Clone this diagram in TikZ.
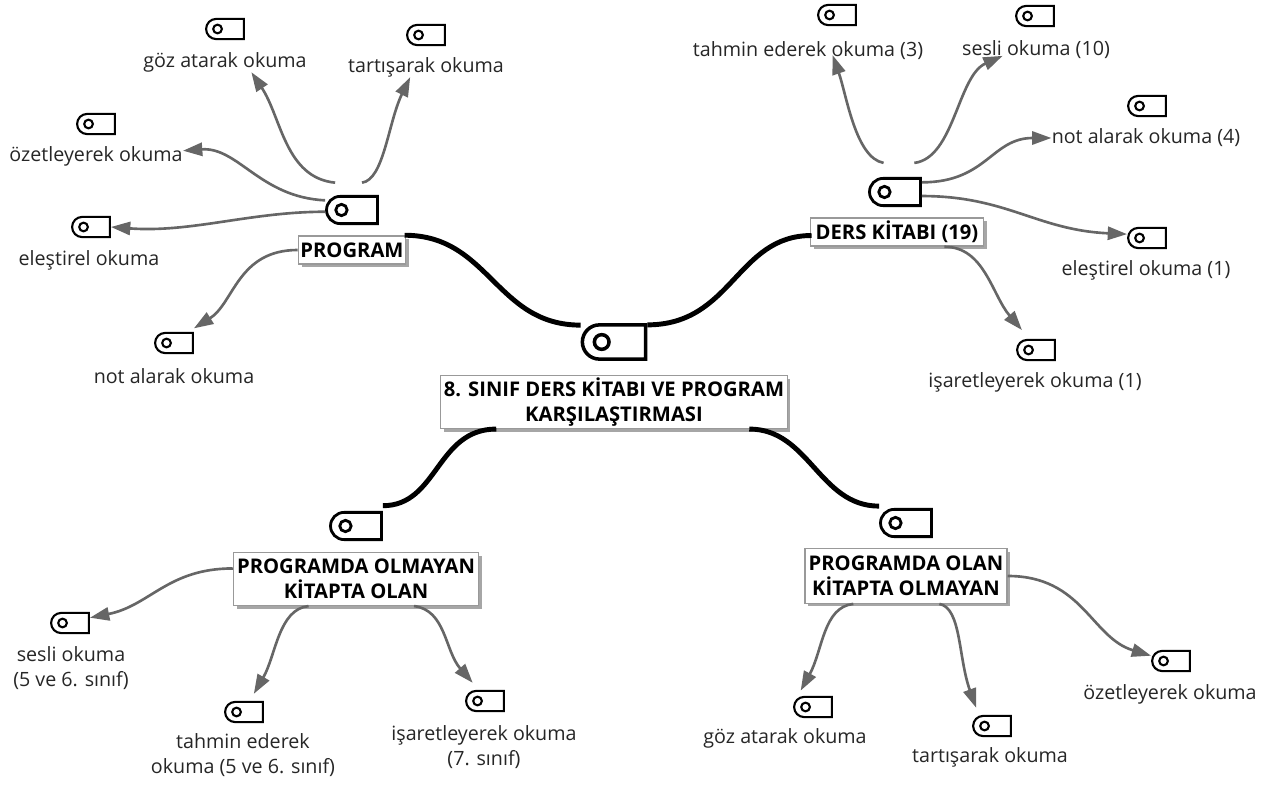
\documentclass[tikz,border=0pt]{standalone}
\usepackage{fontspec}
\setmainfont{Open Sans}
\usetikzlibrary{arrows.meta,shapes.misc,shadows}
\definecolor{kol}{HTML}{666666}
\tikzset{
  etiket/.style n args={4}{rounded rectangle, rounded rectangle right arc=none, draw=black,
    fill=white, line width=#1, minimum width=#2, minimum height=#3, inner sep=0pt,
    path picture={\draw[line width=#1] ([xshift=#4]path picture bounding box.west) circle (#4*0.38);}},
  anaetiket/.style={etiket={2pt}{36pt}{19.5pt}{11pt}},
  kocaetiket/.style={etiket={1.6pt}{29pt}{15.5pt}{8.5pt}},
  ufaketiket/.style={etiket={1.2pt}{21.5pt}{11.5pt}{6.5pt}},
  kutu/.style={draw=black!40, fill=white, line width=0.8pt, align=center, inner sep=0pt,
    font=\bfseries\fontsize{11.5}{14}\selectfont,
    drop shadow={shadow xshift=1.8pt, shadow yshift=-1.8pt, opacity=1, fill=black!35}},
  yazi/.style={align=center, inner sep=0pt, text=black!85, font=\fontsize{11.2}{13.8}\selectfont},
  dal/.style={line width=2.8pt, draw=black},
  kol/.style={line width=1.5pt, draw=kol, -{Triangle[length=11pt,width=7.5pt]}}
}
\begin{document}
\begin{tikzpicture}[x=0.02cm, y=-0.02cm]
\useasboundingbox (0,0) rectangle (1265,786);
% kutular
\node[kutu, minimum width=197.3pt, minimum height=30pt] (kok) at (614,402) {8. SINIF DERS KİTABI VE PROGRAM\\KARŞILAŞTIRMASI};
\node[kutu, minimum width=61pt, minimum height=16pt] (program) at (352,250) {PROGRAM};
\node[kutu, minimum width=98.5pt, minimum height=16pt] (kitap) at (897,232) {DERS KİTABI (19)};
\node[kutu, minimum width=139.5pt, minimum height=30pt] (olmayan) at (356,579) {PROGRAMDA OLMAYAN\\KİTAPTA OLAN};
\node[kutu, minimum width=115pt, minimum height=31pt] (olan) at (906,576) {PROGRAMDA OLAN\\KİTAPTA OLMAYAN};
% etiketler
\node[anaetiket] (kokicon) at (614,342) {};
\foreach \ad/\x/\y in {programicon/352/210, kitapicon/895/192, olmayanicon/356/526, olanicon/906/523}
  \node[kocaetiket] (\ad) at (\x,\y) {};
\foreach \ad/\x/\y in {goz/225/29, tartis/426/35, ozet/96/124, elestir/91/227, notal/174/343,
  kgoz/837/15, ksesli/1035/16, knot/1147/106, kelestir/1147/238, kisaret/1036/350,
  asesli/70/623, atahmin/244/712, aisaret/485/701, bgoz/813/707, btartis/992/726, bozet/1171/661}
  \node[ufaketiket] (\ad) at (\x,\y) {};
% yazilar
\node[yazi] (gozy) at (225,62) {göz atarak okuma};
\node[yazi] (tartisy) at (426,67) {tartışarak okuma};
\node[yazi] (ozety) at (96,156) {özetleyerek okuma};
\node[yazi] (elestiry) at (89,260) {eleştirel okuma};
\node[yazi] (notaly) at (174,376) {not alarak okuma};
\node[yazi] (kgozy) at (808,51) {tahmin ederek okuma (3)};
\node[yazi] (kseslili) at (1036,50) {sesli okuma (10)};
\node[yazi] (knoty) at (1146,138) {not alarak okuma (4)};
\node[yazi] (kelestiry) at (1146,270) {eleştirel okuma (1)};
\node[yazi] (kisarety) at (1035,382) {işaretleyerek okuma (1)};
\node[yazi] (asesliy) at (71,668) {sesli okuma\\(5 ve 6. sınıf)};
\node[yazi] (atahminy) at (243,755) {tahmin ederek\\okuma (5 ve 6. sınıf)};
\node[yazi] (aisarety) at (484,747) {işaretleyerek okuma\\(7. sınıf)};
\node[yazi] (bgozy) at (785,738) {göz atarak okuma};
\node[yazi] (btartisy) at (990,757) {tartışarak okuma};
\node[yazi] (bozety) at (1170,694) {özetleyerek okuma};
% kalin dallar
\draw[dal] ([xshift=-1pt]program.north east) .. controls +(85,0) and +(-85,0) .. ([yshift=9.6pt]kokicon.west);
\draw[dal] ([yshift=-1pt]kokicon.north east) .. controls +(85,0) and +(-75,0) .. ([xshift=1pt,yshift=-2pt]kitap.west);
\draw[dal] ([xshift=-67pt]kok.south) .. controls +(-60,0) and +(55,0) .. ([yshift=3pt]olmayanicon.north east);
\draw[dal] ([xshift=77pt]kok.south) .. controls +(60,0) and +(-60,0) .. ([yshift=9.6pt]olanicon.west);
% PROGRAM kollari
\draw[kol] ([xshift=-9.6pt,yshift=7pt]programicon.north) .. controls +(-50,-5) and +(30,45) .. ([xshift=15pt]gozy.south);
\draw[kol] ([xshift=5.7pt,yshift=7pt]programicon.north) .. controls +(22,-3) and +(-22,45) .. ([xshift=-9pt]tartisy.south);
\draw[kol] ([yshift=5.5pt]programicon.west) .. controls +(-65,-3) and +(55,-4) .. ([yshift=3pt]ozety.east);
\draw[kol] ([yshift=-1pt]programicon.west) .. controls +(-75,0) and +(80,6) .. (elestir.east);
\draw[kol] (program.west) .. controls +(-60,0) and +(40,-25) .. ([yshift=2pt]notal.north east);
% DERS KITABI kollari
\draw[kol] ([xshift=-6.5pt,yshift=8pt]kitapicon.north) .. controls +(-28,-5) and +(14,40) .. ([xshift=14pt,yshift=3pt]kgozy.south);
\draw[kol] ([xshift=11pt,yshift=8pt]kitapicon.north) .. controls +(40,-5) and +(-45,20) .. ([xshift=-19pt,yshift=2pt]kseslili.south);
\draw[kol] ([yshift=5.5pt]kitapicon.east) .. controls +(65,0) and +(-60,0) .. (knoty.west);
\draw[kol] ([yshift=-2.3pt]kitapicon.east) .. controls +(85,0) and +(-90,-4) .. ([yshift=2.2pt]kelestir.west);
\draw[kol] ([xshift=27pt]kitap.south) .. controls +(40,0) and +(-30,-35) .. ([xshift=-8pt,yshift=5pt]kisaret.north);
% alt sol kollar
\draw[kol] ([yshift=6pt]olmayan.west) .. controls +(-65,0) and +(60,-12) .. ([yshift=3pt]asesli.east);
\draw[kol] ([xshift=-27pt]olmayan.south) .. controls +(-30,3) and +(22,-38) .. ([xshift=5.6pt,yshift=4pt]atahmin.north);
\draw[kol] ([xshift=33pt]olmayan.south) .. controls +(32,4) and +(-28,-32) .. ([xshift=-7pt,yshift=4pt]aisaret.north);
% alt sag kollar
\draw[kol] ([xshift=-30pt]olan.south) .. controls +(-30,3) and +(22,-40) .. ([xshift=-7pt,yshift=3pt]bgoz.north);
\draw[kol] ([xshift=19pt]olan.south) .. controls +(22,4) and +(-18,-50) .. ([xshift=-9pt,yshift=4pt]btartis.north);
\draw[kol] (olan.east) .. controls +(75,0) and +(-60,-18) .. ([yshift=3pt]bozet.west);
\end{tikzpicture}
\end{document}
